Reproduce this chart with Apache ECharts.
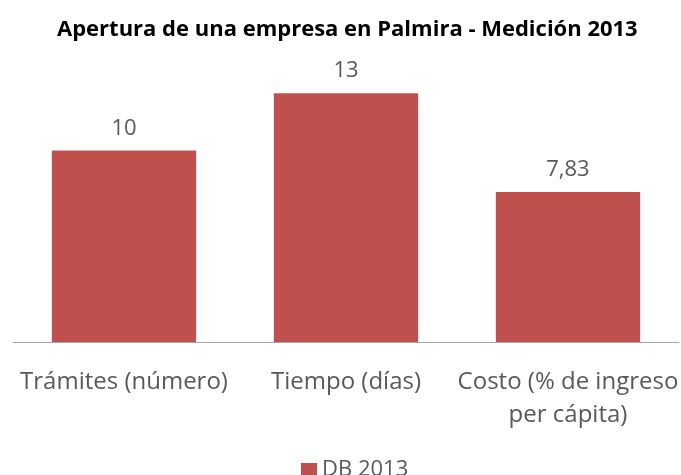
<!DOCTYPE html>
<html>
<head>
<meta charset="utf-8">
<script src="https://cdn.jsdelivr.net/npm/echarts@6/dist/echarts.min.js"></script>
<style>
  html, body { margin: 0; padding: 0; background: #fff; }
  #chart { width: 681px; height: 475px; }
</style>
</head>
<body>
<div id="chart"></div>
<script>
  var categories = ['Trámites (número)', 'Tiempo (días)', 'Costo (% de ingreso\nper cápita)']
  var values = [10, 13, 7.83]
  var seriesName = 'DB 2013'

  var chart = echarts.init(document.getElementById('chart'))
  chart.setOption({
    animation: false,
    title: {
      text: 'Apertura de una empresa en Palmira - Medición 2013',
      left: 52,
      top: 14,
      textStyle: {
        fontFamily: 'Open Sans',
        fontWeight: 'bold',
        fontSize: 22,
        color: '#000'
      }
    },
    legend: {
      top: 454,
      left: 296,
      itemWidth: 16,
      itemHeight: 14,
      itemGap: 5,
      icon: 'rect',
      textStyle: {
        fontFamily: 'Open Sans',
        fontSize: 22,
        color: '#595959'
      },
      data: [seriesName]
    },
    grid: {
      left: 13,
      right: 0,
      top: 74,
      bottom: 133,
      containLabel: false
    },
    xAxis: {
      type: 'category',
      data: categories,
      axisLine: {
        lineStyle: { color: '#a6a6a6', width: 1 }
      },
      axisTick: { show: false },
      axisLabel: {
        interval: 0,
        margin: 24,
        fontFamily: 'Open Sans',
        fontSize: 24,
        lineHeight: 33,
        color: '#595959'
      }
    },
    yAxis: {
      type: 'value',
      min: 0,
      max: 14,
      show: false
    },
    series: [
      {
        name: seriesName,
        type: 'bar',
        data: values,
        barWidth: '65%',
        itemStyle: { color: '#C0504D' },
        label: {
          show: true,
          position: 'top',
          distance: 11,
          fontFamily: 'Open Sans',
          fontSize: 22,
          color: '#595959',
          formatter: function (p) {
            return String(p.value).replace('.', ',')
          }
        }
      }
    ]
  })
</script>
</body>
</html>
